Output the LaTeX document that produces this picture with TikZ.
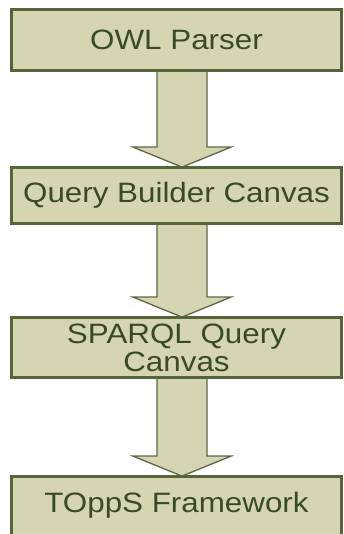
\documentclass[tikz,border=0pt]{standalone}
\usepackage{fontspec}
\setmainfont{Liberation Sans}[FakeStretch=1.12]
\usetikzlibrary{calc}
\definecolor{stagefill}{RGB}{213,214,177}
\definecolor{stageline}{RGB}{86,100,58}
\definecolor{stagetext}{RGB}{58,74,38}
\definecolor{flowline}{RGB}{92,104,70}
\begin{document}
\begin{tikzpicture}[x=1pt,y=1pt,
  stage/.style={draw=stageline, line width=1.8pt, fill=stagefill,
    text=stagetext, inner sep=0pt, minimum width=329pt,
    font=\fontsize{28}{28}\selectfont, align=center},
  flow/.style={draw=flowline, line width=1.3pt, fill=stagefill, line join=miter}]
  \clip (0,0) rectangle (343,534);
  \fill[white] (0,0) rectangle (343,534);
  % pipeline stages, top to bottom
  \node[stage, minimum height=60pt] (owl) at (176.5,494) {OWL Parser};
  \node[stage, minimum height=55pt] (qb) at (176.5,338.5) {Query Builder Canvas};
  \node[stage, minimum height=59pt] (sq) at (176.5,186.5) {SPARQL Query\\Canvas};
  \node[stage, minimum height=68pt] (tf) at (176.5,23) {};
  % block arrows between consecutive stages
  \foreach \s/\t in {owl/qb, qb/sq, sq/tf}{
    \draw[flow] let \p1=(\s.south), \p2=(\t.north) in
      (\x1-19.5pt,\y1) -- (\x1-19.5pt,\y2+20pt) -- (\x1-43.5pt,\y2+20pt)
      -- (\x1+5.5pt,\y2) -- (\x1+54.5pt,\y2+20pt) -- (\x1+30.5pt,\y2+20pt)
      -- (\x1+30.5pt,\y1);
  }
  % redraw the stage boxes over the arrow ends
  \foreach \n in {owl, qb, sq, tf}{
    \draw[stageline, line width=1.8pt] (\n.north west) rectangle (\n.south east);
  }
  \node[text=stagetext, font=\fontsize{28}{28}\selectfont, inner sep=0pt,
    anchor=base] (tftext) at (176.5,21) {TOppS Framework};
\end{tikzpicture}
\end{document}
